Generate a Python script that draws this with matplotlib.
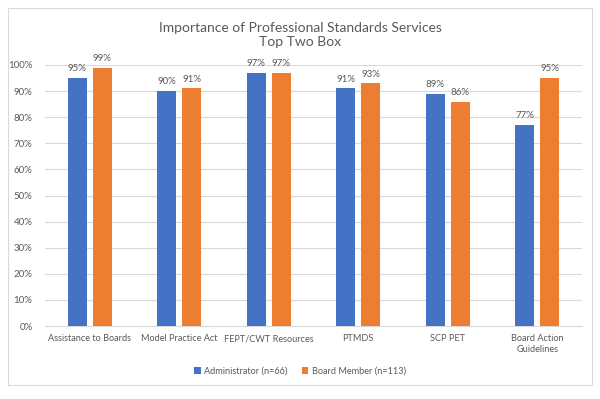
import numpy as np
import matplotlib
matplotlib.use('Agg')
import matplotlib.pyplot as plt
from matplotlib.patches import Rectangle
from matplotlib.ticker import PercentFormatter

categories = ['Assistance to Boards', 'Model Practice Act', 'FEPT/CWT Resources',
              'PTMDS', 'SCP PET', 'Board Action\nGuidelines']
admin = [95, 90, 97, 91, 89, 77]
board = [99, 91, 97, 93, 86, 95]
series_names = ['Administrator (n=66)', 'Board Member (n=113)']

blue = '#4472C4'
orange = '#ED7D31'
text_col = '#595959'

plt.rcParams['font.family'] = ['Lato', 'DejaVu Sans']

fig = plt.figure(figsize=(6, 3.99), dpi=100)
fig.patches.append(Rectangle((8 / 600, 1 - 385 / 399), 584 / 600, 377 / 399,
                             transform=fig.transFigure, fill=False,
                             edgecolor='#D9D9D9', lw=0.8))
ax = fig.add_axes([45 / 600, 1 - 326 / 399, 537 / 600, 261 / 399])

x = np.arange(len(categories))
w = 0.213
gap = 0.034
b1 = ax.bar(x - w / 2 - gap, admin, w, color=blue, label=series_names[0], zorder=3)
b2 = ax.bar(x + w / 2 + gap, board, w, color=orange, label=series_names[1], zorder=3)

for bars, vals in ((b1, admin), (b2, board)):
    for r, v in zip(bars, vals):
        ax.text(r.get_x() + r.get_width() / 2, v + 1.8, f'{v}%', ha='center',
                va='bottom', fontsize=7, color=text_col)

ax.set_ylim(0, 100)
ax.set_xlim(-0.5, len(categories) - 0.5)
ax.set_yticks(np.arange(0, 101, 10))
ax.yaxis.set_major_formatter(PercentFormatter(decimals=0))
ax.grid(axis='y', color='#D9D9D9', lw=0.8, zorder=0)
ax.set_xticks(x)
ax.set_xticklabels(categories)
ax.tick_params(axis='both', length=0, labelsize=7, labelcolor=text_col)
ax.tick_params(axis='x', pad=6, labelsize=6.6)
ax.tick_params(axis='y', pad=9)
for s in ('top', 'right', 'left'):
    ax.spines[s].set_visible(False)
ax.spines['bottom'].set_color('#D9D9D9')

fig.text(0.5, 1 - 35 / 399, 'Importance of Professional Standards Services\nTop Two Box',
         ha='center', va='center', fontsize=10, color=text_col, linespacing=1.3)

fig.legend(loc='center', bbox_to_anchor=(0.5, 1 - 371 / 399), ncol=2, frameon=False,
           fontsize=6.6, labelcolor=text_col, handlelength=0.7, handleheight=0.7,
           columnspacing=1.5, handletextpad=0.4)

fig.savefig('out.png', dpi=100)
